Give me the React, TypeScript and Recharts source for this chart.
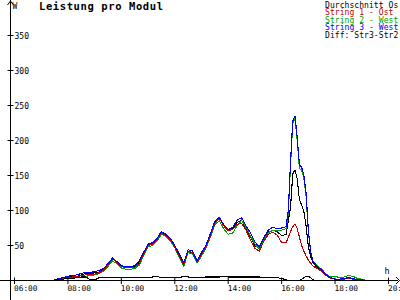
import React from 'react';
import { LineChart, Line, XAxis, YAxis } from 'recharts';

const title = 'Leistung pro Modul';

const times = [
  '07:30','07:40','07:50','08:00','08:10','08:20','08:30','08:40','08:50','09:00',
  '09:10','09:20','09:30','09:40','09:50','10:00','10:10','10:20','10:30','10:40',
  '10:50','11:00','11:10','11:20','11:30','11:40','11:50','12:00','12:10','12:20',
  '12:30','12:40','12:50','13:00','13:10','13:20','13:30','13:40','13:50','14:00',
  '14:10','14:20','14:30','14:40','14:50','15:00','15:10','15:20','15:30','15:40',
  '15:50','16:00','16:10','16:15','16:20','16:25','16:30','16:35','16:40','16:45',
  '16:50','16:55','17:00','17:05','17:10','17:20','17:30','17:40','17:50','18:00',
  '18:10','18:20','18:30','18:40','18:50','19:00','19:10',
];

const durchschnitt = [
  0,2,3,5,6,6,8,10,10,11,
  12,16,23,31,26,20,19,19,20,26,
  38,51,53,59,69,65,59,49,36,23,
  40,40,27,38,49,65,83,89,79,72,
  74,83,86,75,63,50,45,58,69,72,
  70,64,66,85,105,152,158,145,115,108,
  98,78,48,35,26,18,14,7,3,2,
  1,2,3,2,1,0,0,
];

const string1Ost = [
  0,1,3,4,5,5,7,8,8,9,
  11,15,22,31,26,20,18,18,19,24,
  37,50,52,58,68,64,58,48,35,22,
  42,40,26,37,48,64,82,89,78,71,
  73,80,82,72,58,46,42,56,66,69,
  65,54,54,62,70,77,81,74,62,50,
  42,35,29,25,21,17,13,7,3,2,
  1,2,3,2,1,0,0,
];

const string2West = [
  0,1,2,3,4,4,5,6,7,8,
  10,13,20,28,24,18,16,16,17,22,
  35,48,50,56,66,63,56,47,33,20,
  40,38,25,35,46,62,80,85,74,66,
  68,78,86,76,64,52,45,58,68,72,
  71,72,74,96,165,224,232,200,160,158,
  146,120,70,42,28,21,16,9,5,6,
  4,5,7,6,3,2,0,
];

const string3West = [
  1,3,4,6,7,8,10,12,11,13,
  14,17,24,32,27,21,20,20,21,28,
  40,52,54,60,70,66,60,50,38,25,
  44,42,28,40,50,67,85,90,80,73,
  76,86,90,78,68,55,48,61,72,76,
  74,75,77,100,170,228,235,205,165,162,
  150,125,72,42,28,20,15,8,4,2,
  2,3,4,3,1,1,0,
];

const diffStr3Str2 = [
  1,2,2,3,3,4,5,5,1,1,
  4,4,4,4,4,4,4,4,4,4,
  4,4,5,6,4,4,4,4,4,6,
  5,4,4,4,5,5,5,5,6,5,
  5,5,5,5,5,5,5,4,4,4,
  4,3,1,0,-1,-1,-1,0,0,2,
  4,6,6,4,1,-1,-1,-1,-1,-1,
  -1,-1,-1,-1,-1,-1,-1,
];

const xTickLabels = ['06:00','08:00','10:00','12:00','14:00','16:00','18:00','20:00'];
const yTickValues = [50, 100, 150, 200, 250, 300, 350];
const legendLabels = ['Durchschnitt Os', 'String 1 - Ost', 'String 2 - West', 'String 3 - West', 'Diff: Str3-Str2'];
const seriesColors = ['#000000', '#c00000', '#00a000', '#0000ff', '#000000'];

const toMin = (s: string) => {
  const [h, m] = s.split(':').map(Number);
  return h * 60 + m;
};

const data = times.map((t, i) => ({
  t: toMin(t),
  avg: durchschnitt[i],
  s1: string1Ost[i],
  s2: string2West[i],
  s3: string3West[i],
  diff: diffStr3Str2[i],
}));

const FONT = '"DejaVu Sans Mono", "Liberation Mono", monospace';

const XTick = (props: any) => {
  const x = props.x;
  const label = props.payload.value;
  const h = Math.floor(label / 60);
  const m = label % 60;
  const txt = `${String(h).padStart(2, '0')}:${String(m).padStart(2, '0')}`;
  return (
    <g>
      <line x1={x} x2={x} y1={277.5} y2={284} stroke="#000" strokeWidth={1} />
      <text x={x - 0.5} y={290.5} fontSize={7.8} fontFamily={FONT} fill="#000" textAnchor="start">
        {txt}
      </text>
    </g>
  );
};

const YTick = (props: any) => {
  const y = props.y;
  return (
    <g>
      <line x1={7.5} x2={13.5} y1={y} y2={y} stroke="#000" strokeWidth={1} />
      <text x={14.5} y={y + 3} fontSize={8} fontFamily={FONT} fill="#000" textAnchor="start">
        {props.payload.value}
      </text>
    </g>
  );
};

const lineProps = {
  type: 'linear' as const,
  strokeWidth: 1.1,
  dot: false,
  isAnimationActive: false,
  shapeRendering: 'crispEdges',
};

export default function App() {
  return (
    <div style={{ position: 'absolute', left: 0, top: 0, width: 400, height: 300, background: '#fff', overflow: 'hidden' }}>
      <LineChart width={400} height={300} data={data} margin={{ top: 0.5, right: 2, bottom: 0, left: 0 }}>
        <XAxis
          dataKey="t"
          type="number"
          domain={[351, 1221.4]}
          ticks={xTickLabels.map(toMin)}
          interval={0}
          height={19.5}
          axisLine={{ stroke: '#000', strokeWidth: 1 }}
          tickLine={false}
          tick={<XTick />}
          allowDataOverflow
        />
        <YAxis
          type="number"
          domain={[0, 400]}
          ticks={yTickValues}
          interval={0}
          width={10.5}
          axisLine={{ stroke: '#000', strokeWidth: 1 }}
          tickLine={false}
          tick={<YTick />}
          allowDataOverflow
        />
        <Line dataKey="avg" stroke={seriesColors[0]} {...lineProps} />
        <Line dataKey="s2" stroke={seriesColors[2]} {...lineProps} />
        <Line dataKey="s1" stroke={seriesColors[1]} {...lineProps} />
        <Line dataKey="s3" stroke={seriesColors[3]} {...lineProps} />
        <Line dataKey="diff" stroke={seriesColors[4]} {...lineProps} />
      </LineChart>
      <svg width={400} height={300} style={{ position: 'absolute', left: 0, top: 0, pointerEvents: 'none' }}>
        <line x1={0} x2={10.5} y1={280.5} y2={280.5} stroke="#000" />
        <line x1={10.5} x2={10.5} y1={280.5} y2={300} stroke="#000" />
        <line x1={10.5} x2={10.5} y1={0} y2={1} stroke="#000" />
        <polyline points="7.5,5 10.5,1 13.5,5" fill="none" stroke="#000" />
        <polyline points="396,277 399.5,280.5 396,284" fill="none" stroke="#000" />
        <text x={12.5} y={8.5} fontSize={8} fontFamily={FONT} fill="#000">W</text>
        <text x={384.5} y={274} fontSize={8.5} fontFamily={FONT} fill="#000">h</text>
        <text x={39} y={10} fontSize={10.5} fontWeight="bold" letterSpacing={0.6} fontFamily={FONT} fill="#000">
          {title}
        </text>
        {legendLabels.map((lab, i) => (
          <text key={lab} x={325} y={7.5 + i * 7.6} fontSize={8} letterSpacing={0.07} fontFamily={FONT} fill={seriesColors[i]}>
            {lab}
          </text>
        ))}
      </svg>
    </div>
  );
}
